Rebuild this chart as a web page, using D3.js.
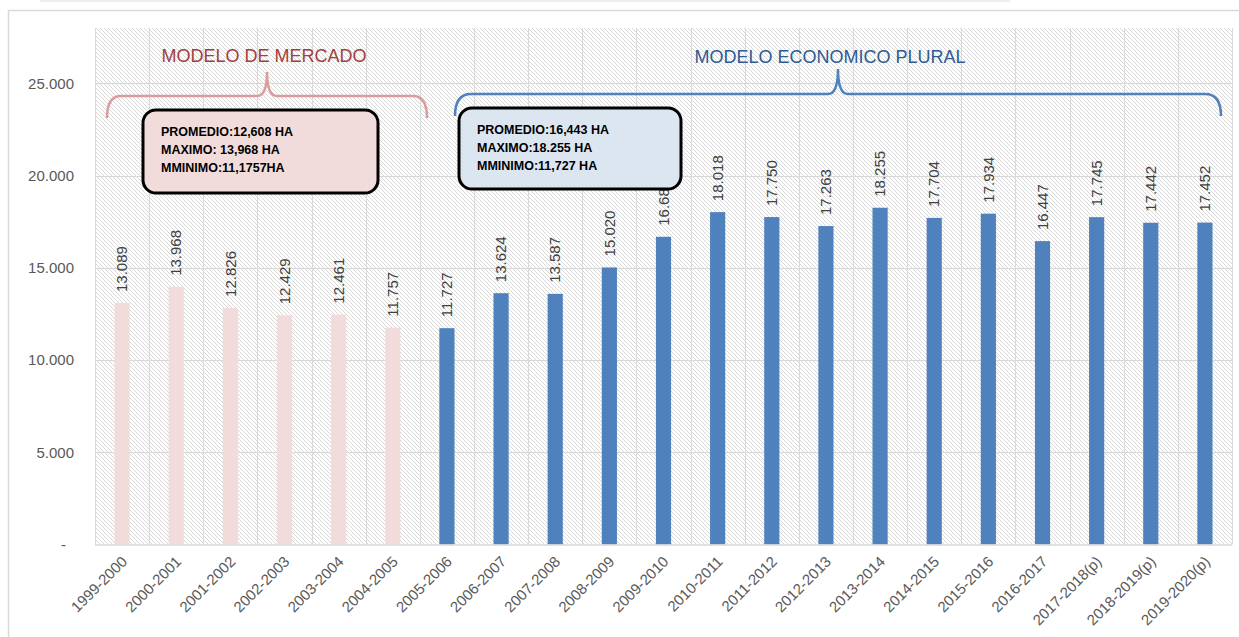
<!DOCTYPE html>
<html>
<head>
<meta charset="utf-8">
<title>Superficie cultivada</title>
<script src="https://d3js.org/d3.v7.min.js"></script>
<style>
  body { margin: 0; background: #fff; font-family: "Liberation Sans", Arial, sans-serif; }
  #chart { position: relative; }
</style>
</head>
<body>
<div id="chart"></div>
<script>
// Campaigns and surface values
var campaigns = ["1999-2000", "2000-2001", "2001-2002", "2002-2003", "2003-2004", "2004-2005",
    "2005-2006", "2006-2007", "2007-2008", "2008-2009", "2009-2010", "2010-2011", "2011-2012",
    "2012-2013", "2013-2014", "2014-2015", "2015-2016", "2016-2017", "2017-2018(p)",
    "2018-2019(p)", "2019-2020(p)"];
var hectares = [13089, 13968, 12826, 12429, 12461, 11757, 11727, 13624, 13587, 15020, 16682,
    18018, 17750, 17263, 18255, 17704, 17934, 16447, 17745, 17442, 17452];
// model per campaign: first six are market model
var models = ["mercado", "mercado", "mercado", "mercado", "mercado", "mercado",
    "plural", "plural", "plural", "plural", "plural", "plural", "plural", "plural", "plural",
    "plural", "plural", "plural", "plural", "plural", "plural"];
var yTicks = [0, 5000, 10000, 15000, 20000, 25000];

var titleMercado = "MODELO DE MERCADO";
var titlePlural = "MODELO ECONOMICO PLURAL";
var boxMercado = ["PROMEDIO:12,608 HA", "MAXIMO: 13,968 HA", "MMINIMO:11,1757HA"];
var boxPlural = ["PROMEDIO:16,443  HA", "MAXIMO:18.255 HA", "MMINIMO:11,727 HA"];

var W = 1239, H = 637;
var plot = {left: 95, right: 1232, top: 28, bottom: 544.5};

var es = d3.formatLocale({decimal: ",", thousands: ".", grouping: [3], currency: ["", ""]});
var fmt = es.format(",.0f");

var svg = d3.select("#chart").append("svg")
    .attr("width", W)
    .attr("height", H);

// hatch pattern for plot background
var defs = svg.append("defs");
defs.append("pattern")
    .attr("id", "hatch")
    .attr("patternUnits", "userSpaceOnUse")
    .attr("width", 4)
    .attr("height", 4)
  .append("path")
    .attr("d", "M-1,-1 L5,5 M3,-1 L5,1 M-1,3 L1,5")
    .attr("stroke", "#d4d4d4")
    .attr("stroke-width", 0.9);

// outer frame
svg.append("line").attr("x1", 40).attr("x2", 1010).attr("y1", 1).attr("y2", 1)
    .attr("stroke", "#eeeeee").attr("stroke-width", 2);
svg.append("path")
    .attr("d", "M8.5," + H + " L8.5,10.5 L" + W + ",10.5")
    .attr("fill", "none")
    .attr("stroke", "#d9d9d9")
    .attr("stroke-width", 1.5);

var x = d3.scaleBand()
    .domain(campaigns)
    .range([plot.left, plot.right])
    .paddingInner(0.72)
    .paddingOuter(0.36);

var y = d3.scaleLinear()
    .domain([0, 28000])
    .range([plot.bottom, plot.top]);

var color = d3.scaleOrdinal()
    .domain(["mercado", "plural"])
    .range(["#f2dcdb", "#4f81bd"]);

svg.append("rect")
    .attr("x", plot.left)
    .attr("y", plot.top)
    .attr("width", plot.right - plot.left)
    .attr("height", plot.bottom - plot.top)
    .attr("fill", "url(#hatch)");

// gridlines
var step = x.step();
var bounds = campaigns.map(function(c) { return x(c) + x.bandwidth() / 2 - step / 2; });
bounds.push(plot.right);
svg.append("g").selectAll("line")
    .data(bounds)
    .enter().append("line")
    .attr("x1", function(d) { return Math.round(d) + 0.5; })
    .attr("x2", function(d) { return Math.round(d) + 0.5; })
    .attr("y1", plot.top)
    .attr("y2", plot.bottom)
    .attr("stroke", "#d9d9d9");
svg.append("g").selectAll("line")
    .data(yTicks.slice(1))
    .enter().append("line")
    .attr("x1", plot.left)
    .attr("x2", plot.right)
    .attr("y1", function(d) { return Math.round(y(d)) + 0.5; })
    .attr("y2", function(d) { return Math.round(y(d)) + 0.5; })
    .attr("stroke", "#d9d9d9");

// y axis
var yAxis = d3.axisLeft(y)
    .tickValues(yTicks)
    .tickSize(0)
    .tickPadding(21)
    .tickFormat(function(d) { return d === 0 ? "-" : fmt(d); });
var gy = svg.append("g")
    .attr("transform", "translate(" + plot.left + ",0)")
    .call(yAxis);
gy.select(".domain").remove();
gy.selectAll("text")
    .attr("fill", "#595959")
    .attr("font-size", 15)
    .attr("font-family", "Liberation Sans, Arial, sans-serif");
gy.selectAll(".tick").filter(function(d) { return d === 0; }).select("text")
    .attr("x", -29);

// bars
svg.append("g").selectAll("rect")
    .data(hectares)
    .enter().append("rect")
    .attr("x", function(d, i) { return x(campaigns[i]); })
    .attr("y", function(d) { return y(d); })
    .attr("width", x.bandwidth())
    .attr("height", function(d) { return y(0) - y(d); })
    .attr("fill", function(d, i) { return color(models[i]); });

// value labels
svg.append("g").selectAll("text")
    .data(hectares)
    .enter().append("text")
    .attr("transform", function(d, i) {
        return "translate(" + (x(campaigns[i]) + x.bandwidth() / 2) + "," + (y(d) - 11) + ") rotate(-90)";
    })
    .attr("dy", "0.35em")
    .attr("fill", "#404040")
    .attr("font-size", 15)
    .text(function(d) { return fmt(d); });

// x axis
svg.append("line")
    .attr("x1", plot.left).attr("x2", plot.right)
    .attr("y1", plot.bottom + 0.5).attr("y2", plot.bottom + 0.5)
    .attr("stroke", "#d9d9d9")
    .attr("stroke-width", 1.5);
svg.append("g").selectAll("text")
    .data(campaigns)
    .enter().append("text")
    .attr("transform", function(d) {
        return "translate(" + (x(d) + x.bandwidth() / 2 + 6) + "," + (plot.bottom + 18) + ") rotate(-45)";
    })
    .attr("text-anchor", "end")
    .attr("fill", "#595959")
    .attr("font-size", 15)
    .text(function(d) { return d; });

// brackets
function brace(x0, x1, xm, yb, ytip, r) {
    return "M" + x0 + "," + (yb + 22) +
        " Q" + x0 + "," + yb + " " + (x0 + r) + "," + yb +
        " L" + (xm - 10) + "," + yb +
        " Q" + xm + "," + yb + " " + xm + "," + ytip +
        " Q" + xm + "," + yb + " " + (xm + 10) + "," + yb +
        " L" + (x1 - r) + "," + yb +
        " Q" + x1 + "," + yb + " " + x1 + "," + (yb + 22);
}
svg.append("path")
    .attr("d", brace(107, 427, 267, 96, 72, 14))
    .attr("fill", "none")
    .attr("stroke", "#dc9c9b")
    .attr("stroke-width", 2.5);
svg.append("path")
    .attr("d", brace(455, 1221, 838, 94, 69, 16))
    .attr("fill", "none")
    .attr("stroke", "#4f81bd")
    .attr("stroke-width", 2.5);

svg.append("text")
    .attr("x", 264).attr("y", 62)
    .attr("text-anchor", "middle")
    .attr("fill", "#a33e3c")
    .attr("font-size", 18)
    .text(titleMercado);
svg.append("text")
    .attr("x", 830).attr("y", 63)
    .attr("text-anchor", "middle")
    .attr("fill", "#2e5b94")
    .attr("font-size", 18)
    .text(titlePlural);

// summary boxes
function summary(bx, by, bw, bh, fill, lines) {
    var g = svg.append("g");
    g.append("rect")
        .attr("x", bx).attr("y", by)
        .attr("width", bw).attr("height", bh)
        .attr("rx", 13).attr("ry", 13)
        .attr("fill", fill)
        .attr("stroke", "#000")
        .attr("stroke-width", 3);
    g.selectAll("text")
        .data(lines)
        .enter().append("text")
        .attr("x", bx + 18)
        .attr("y", function(d, i) { return by + 26 + i * 18; })
        .attr("font-size", 12.5)
        .attr("font-weight", "bold")
        .attr("fill", "#000")
        .text(function(d) { return d; });
}
summary(143, 110, 235, 83, "#f2dcdb", boxMercado);
summary(459, 108, 222, 81, "#dce6f1", boxPlural);
</script>
</body>
</html>
